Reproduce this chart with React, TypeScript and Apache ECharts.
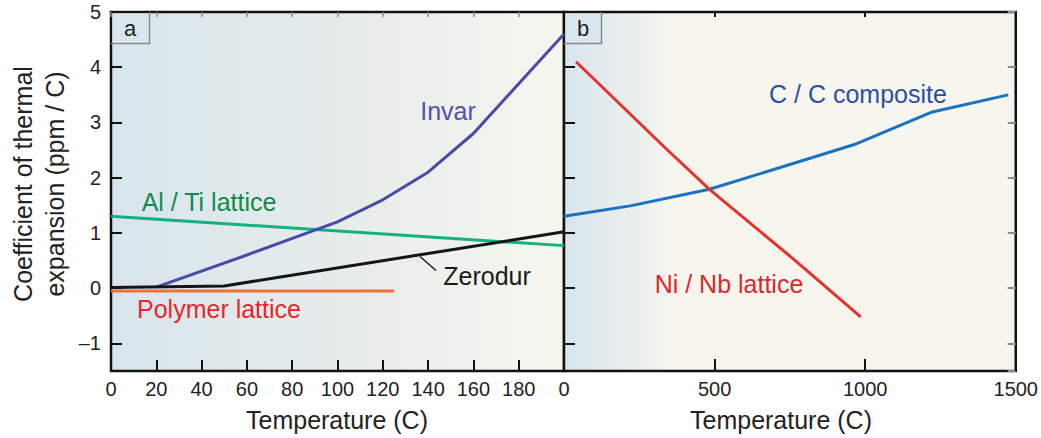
import React, { useEffect, useRef } from "react";
import * as echarts from "echarts";

// Panel a (0–200 C)
const invarT = [20, 60, 100, 120, 140, 160, 200];
const invarV = [0.02, 0.6, 1.2, 1.6, 2.1, 2.8, 4.6];
const alTiT = [0, 200];
const alTiV = [1.3, 0.77];
const zerodurT = [0, 50, 200];
const zerodurV = [0.01, 0.04, 1.02];
const polymerT = [0, 125];
const polymerV = [-0.05, -0.05];

// Panel b (0–1500 C)
const niNbT = [40, 340, 483, 770, 985];
const niNbV = [4.1, 2.52, 1.79, 0.49, -0.52];
const ccT = [0, 220, 483, 964, 1223, 1475];
const ccV = [1.3, 1.49, 1.79, 2.6, 3.19, 3.5];

const FONT = "'Liberation Sans', Arial, Helvetica, sans-serif";

const zip = (xs: number[], ys: number[]) => xs.map((x, i) => [x, ys[i]]);

export default function App() {
  const ref = useRef<HTMLDivElement>(null);
  useEffect(() => {
    if (!ref.current) return;
    const chart = echarts.init(ref.current, undefined, { renderer: "svg" });
    const gridTop = 12;
    const gridH = 359;
    const bgA = {
      type: "linear", x: 0, y: 0, x2: 1, y2: 0,
      colorStops: [
        { offset: 0, color: "#d8e5ed" },
        { offset: 0.5, color: "#e6ecea" },
        { offset: 1, color: "#f6f6ee" },
      ],
    };
    const bgB = {
      type: "linear", x: 0, y: 0, x2: 1, y2: 0,
      colorStops: [
        { offset: 0, color: "#d8e5ed" },
        { offset: 0.25, color: "#f6f6ee" },
        { offset: 1, color: "#f6f6ee" },
      ],
    };
    const yLabelFmt = (v: number) =>
      Number.isInteger(v) ? (v < 0 ? "\u2013" + Math.abs(v) : String(v)) : "";
    const noLine = { show: false, onZero: false };
    const baseY = {
      type: "value",
      min: -1.5,
      max: 5,
      splitNumber: 6,
      axisLine: noLine,
      splitLine: { show: false },
    };
    const lineStyle = (c: string) => ({ color: c, width: 3 });
    chart.setOption({
      animation: false,
      backgroundColor: "#ffffff",
      grid: [
        { left: 111, top: gridTop, width: 453, height: gridH, show: true, backgroundColor: bgA, borderColor: "#111", borderWidth: 2.5 },
        { left: 564, top: gridTop, width: 453, height: gridH, show: true, backgroundColor: bgB, borderColor: "#111", borderWidth: 2.5 },
      ],
      xAxis: [
        {
          type: "value", gridIndex: 0, min: 0, max: 200, interval: 20, position: "bottom",
          axisLine: noLine, splitLine: { show: false },
          axisTick: { inside: true, length: 11, lineStyle: { color: "#111", width: 2 } },
          axisLabel: {
            margin: 8, fontSize: 20, color: "#222", fontFamily: FONT,
            formatter: (v: number) => (v === 200 ? "" : String(v)),
          },
        },
        {
          type: "value", gridIndex: 0, min: 0, max: 200, interval: 20, position: "top",
          axisLine: noLine, splitLine: { show: false },
          axisTick: { inside: true, length: 5, lineStyle: { color: "#8a8a8a", width: 1.5 } },
          axisLabel: { show: false },
        },
        {
          type: "value", gridIndex: 1, min: 0, max: 1500, interval: 500, position: "bottom",
          axisLine: noLine, splitLine: { show: false },
          axisTick: { inside: true, length: 12, lineStyle: { color: "#111", width: 2 } },
          axisLabel: { margin: 8, fontSize: 20, color: "#222", fontFamily: FONT, formatter: (v: number) => String(v) },
        },
        {
          type: "value", gridIndex: 1, min: 0, max: 1500, interval: 500, position: "top",
          axisLine: noLine, splitLine: { show: false },
          axisTick: { inside: true, length: 5, lineStyle: { color: "#111", width: 2 } },
          axisLabel: { show: false },
        },
      ],
      yAxis: [
        {
          ...baseY, gridIndex: 0, position: "left",
          axisTick: { inside: true, length: 11, lineStyle: { color: "#111", width: 2 } },
          axisLabel: { margin: 10, fontSize: 20, color: "#222", fontFamily: FONT, formatter: yLabelFmt },
        },
        {
          ...baseY, gridIndex: 1, position: "left",
          axisTick: { inside: true, length: 11, lineStyle: { color: "#111", width: 2 } },
          axisLabel: { show: false },
        },
        {
          ...baseY, gridIndex: 1, position: "right",
          axisTick: { inside: true, length: 8, lineStyle: { color: "#8a8a8a", width: 2 } },
          axisLabel: { show: false },
        },
      ],
      series: [
        { name: "Al / Ti lattice", type: "line", xAxisIndex: 0, yAxisIndex: 0, data: zip(alTiT, alTiV), showSymbol: false, lineStyle: lineStyle("#12b184"), z: 3 },
        { name: "Invar", type: "line", xAxisIndex: 0, yAxisIndex: 0, data: zip(invarT, invarV), showSymbol: false, lineStyle: lineStyle("#4a4aa8"), z: 4 },
        { name: "Polymer lattice", type: "line", xAxisIndex: 0, yAxisIndex: 0, data: zip(polymerT, polymerV), showSymbol: false, lineStyle: lineStyle("#f0703c"), z: 3 },
        { name: "Zerodur", type: "line", xAxisIndex: 0, yAxisIndex: 0, data: zip(zerodurT, zerodurV), showSymbol: false, lineStyle: lineStyle("#151515"), z: 5 },
        { name: "C/C composite", type: "line", xAxisIndex: 2, yAxisIndex: 1, data: zip(ccT, ccV), showSymbol: false, lineStyle: lineStyle("#1a72c0"), z: 3 },
        { name: "Ni/Nb lattice", type: "line", xAxisIndex: 2, yAxisIndex: 1, data: zip(niNbT, niNbV), showSymbol: false, lineStyle: lineStyle("#e8302c"), z: 4 },
      ],
      graphic: [
        // panel tags
        { type: "rect", z: 20, shape: { x: 112.5, y: 13.5, width: 37, height: 30 }, style: { fill: "#dae6ee" } },
        { type: "polyline", z: 21, shape: { points: [[149.5, 12], [149.5, 43.5], [111, 43.5]] }, style: { stroke: "#8a8a8a", lineWidth: 1.5, fill: null } },
        { type: "text", z: 22, x: 130, y: 28, style: { text: "a", fontSize: 22, fontFamily: FONT, fill: "#222", align: "center", verticalAlign: "middle" } },
        { type: "rect", z: 20, shape: { x: 565.5, y: 13.5, width: 36, height: 30 }, style: { fill: "#dae6ee" } },
        { type: "polyline", z: 21, shape: { points: [[601.5, 12], [601.5, 43.5], [564, 43.5]] }, style: { stroke: "#8a8a8a", lineWidth: 1.5, fill: null } },
        { type: "text", z: 22, x: 583, y: 28, style: { text: "b", fontSize: 22, fontFamily: FONT, fill: "#222", align: "center", verticalAlign: "middle" } },
        // series labels
        { type: "text", z: 22, x: 448, y: 111, style: { text: "Invar", fontSize: 25, fontFamily: FONT, fill: "#5050aa", align: "center", verticalAlign: "middle" } },
        { type: "text", z: 22, x: 209, y: 202, style: { text: "Al / Ti lattice", fontSize: 25, fontFamily: FONT, fill: "#0f8a4c", align: "center", verticalAlign: "middle" } },
        { type: "text", z: 22, x: 487, y: 276, style: { text: "Zerodur", fontSize: 25, fontFamily: FONT, fill: "#1a1a1a", align: "center", verticalAlign: "middle" } },
        { type: "line", z: 22, shape: { x1: 420, y1: 256.5, x2: 436, y2: 270.5 }, style: { stroke: "#1a1a1a", lineWidth: 1.5 } },
        { type: "text", z: 22, x: 219, y: 309, style: { text: "Polymer lattice", fontSize: 25, fontFamily: FONT, fill: "#e8262a", align: "center", verticalAlign: "middle" } },
        { type: "text", z: 22, x: 858, y: 94, style: { text: "C / C composite", fontSize: 25, fontFamily: FONT, fill: "#2b50a2", align: "center", verticalAlign: "middle" } },
        { type: "text", z: 22, x: 729, y: 284, style: { text: "Ni / Nb lattice", fontSize: 25, fontFamily: FONT, fill: "#e0262a", align: "center", verticalAlign: "middle" } },
        // axis titles
        { type: "text", z: 22, x: 39, y: 184, rotation: Math.PI / 2, style: { text: "Coefficient of thermal\nexpansion (ppm / C)", fontSize: 25, lineHeight: 32, fontFamily: FONT, fill: "#222", align: "center", verticalAlign: "middle" } },
        { type: "text", z: 22, x: 337, y: 420, style: { text: "Temperature (C)", fontSize: 25, fontFamily: FONT, fill: "#222", align: "center", verticalAlign: "middle" } },
        { type: "text", z: 22, x: 781, y: 420, style: { text: "Temperature (C)", fontSize: 25, fontFamily: FONT, fill: "#222", align: "center", verticalAlign: "middle" } },
      ],
    });
    return () => chart.dispose();
  }, []);
  return <div ref={ref} style={{ position: "fixed", left: 0, top: 0, width: 1041, height: 438 }} />;
}
